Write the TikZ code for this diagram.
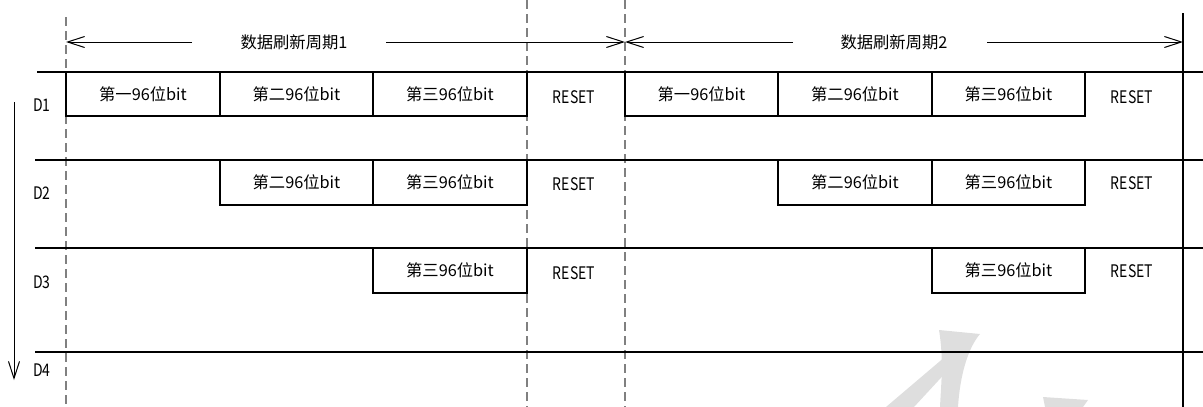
\documentclass[tikz,border=0pt]{standalone}
\usepackage{fontspec}
\setmainfont{Noto Sans CJK SC}
\newfontfamily\condfont[FakeStretch=0.81]{Noto Sans CJK SC}
\usetikzlibrary{arrows.meta}
\definecolor{dashgray}{HTML}{808080}
\definecolor{wmgray}{HTML}{DEDEDE}
\begin{document}
\begin{tikzpicture}[x=1pt,y=-1pt,
  rowline/.style={line width=1.2pt, black},
  dashline/.style={line width=1.2pt, dashgray, dash pattern=on 9pt off 5pt},
  cell/.style={draw, line width=1.2pt, outer sep=0pt, inner sep=0pt, minimum height=44pt, anchor=north west, font=\fontsize{16.3}{18}\selectfont},
  plain/.style={inner sep=0pt, font=\condfont\fontsize{17.3}{19}\selectfont},
  title/.style={inner sep=0pt, font=\fontsize{16.3}{18}\selectfont},
  openarrow/.style={line width=1pt, -{Straight Barb[length=17pt,width=11pt,line width=1pt]}}]
\useasboundingbox (0,0) rectangle (1203,407);
% watermark
\fill[wmgray] (939,330) -- (980,334) .. controls (968,348) and (960,375) .. (958,407) -- (940,407) .. controls (941,385) and (944,360) .. (939,330) -- cycle;
\fill[wmgray] (946,356) -- (950,368) -- (914,407) -- (886,407) -- cycle;
\fill[wmgray] (1043,397) -- (1088,400) -- (1083,407) -- (1045,407) -- cycle;
% dashed guides
\coordinate (g0t) at (66,17);  \coordinate (g0b) at (66,407);
\coordinate (g1t) at (527,0);  \coordinate (g1b) at (527,407);
\coordinate (g2t) at (625,0);  \coordinate (g2b) at (625,407);
\draw[dashline] (g0t) -- (g0b);
\draw[dashline] (g1t) -- (g1b);
\draw[dashline] (g2t) -- (g2b);
% right solid boundary
\coordinate (rbt) at (1183,13); \coordinate (rbb) at (1183,407);
\draw[line width=1.2pt] (rbt) -- (rbb);
% row lines
\coordinate (r1a) at (37,72);  \coordinate (r1b) at (1203,72);
\coordinate (r2a) at (35,160); \coordinate (r2b) at (1203,160);
\coordinate (r3a) at (35,248); \coordinate (r3b) at (1203,248);
\coordinate (r4a) at (35,352); \coordinate (r4b) at (1203,352);
\draw[rowline] (r1a) -- (r1b);
\draw[rowline] (r2a) -- (r2b);
\draw[rowline] (r3a) -- (r3b);
\draw[rowline] (r4a) -- (r4b);
% period titles and arrows
\node[title] (t1) at (294,42) {数据刷新周期1};
\node[title] (t2) at (894,42) {数据刷新周期2};
\coordinate (a1l) at (192,42); \coordinate (a1r) at (386,42);
\coordinate (a2l) at (793,42); \coordinate (a2r) at (987,42);
\coordinate (p0) at (66,42); \coordinate (p1) at (625,42); \coordinate (p2) at (1183,42);
\draw[openarrow] (a1l) -- (p0);
\draw[openarrow] (a1r) -- (p1);
\draw[openarrow] (a2l) -- (p1);
\draw[openarrow] (a2r) -- (p2);
% left vertical arrow
\coordinate (va) at (14,102); \coordinate (vb) at (14,380);
\draw[openarrow] (va) -- (vb);
% row labels
\node[plain] (d1) at (42,105) {D1};
\node[plain] (d2) at (42,193) {D2};
\node[plain] (d3) at (42,282) {D3};
\node[plain] (d4) at (42,370) {D4};
% D1 row
\node[cell, minimum width=154pt] (a11) at (66,72) {第一96位bit};
\node[cell, minimum width=153pt] (a12) at (220,72) {第二96位bit};
\node[cell, minimum width=154pt] (a13) at (373,72) {第三96位bit};
\node[plain] (a14) at (574,97) {RESET};
\node[cell, minimum width=153pt] (b11) at (625,72) {第一96位bit};
\node[cell, minimum width=154pt] (b12) at (778,72) {第二96位bit};
\node[cell, minimum width=153pt] (b13) at (932,72) {第三96位bit};
\node[plain] (b14) at (1132,97) {RESET};
% D2 row
\node[cell, minimum width=153pt, minimum height=45pt] (a22) at (220,160) {第二96位bit};
\node[cell, minimum width=154pt, minimum height=45pt] (a23) at (373,160) {第三96位bit};
\node[plain] (a24) at (574,184) {RESET};
\node[cell, minimum width=154pt, minimum height=45pt] (b22) at (778,160) {第二96位bit};
\node[cell, minimum width=153pt, minimum height=45pt] (b23) at (932,160) {第三96位bit};
\node[plain] (b24) at (1132,183) {RESET};
% D3 row
\node[cell, minimum width=154pt, minimum height=45pt] (a33) at (373,248) {第三96位bit};
\node[plain] (a34) at (574,273) {RESET};
\node[cell, minimum width=153pt, minimum height=45pt] (b33) at (932,248) {第三96位bit};
\node[plain] (b34) at (1132,271) {RESET};
\end{tikzpicture}
\end{document}
